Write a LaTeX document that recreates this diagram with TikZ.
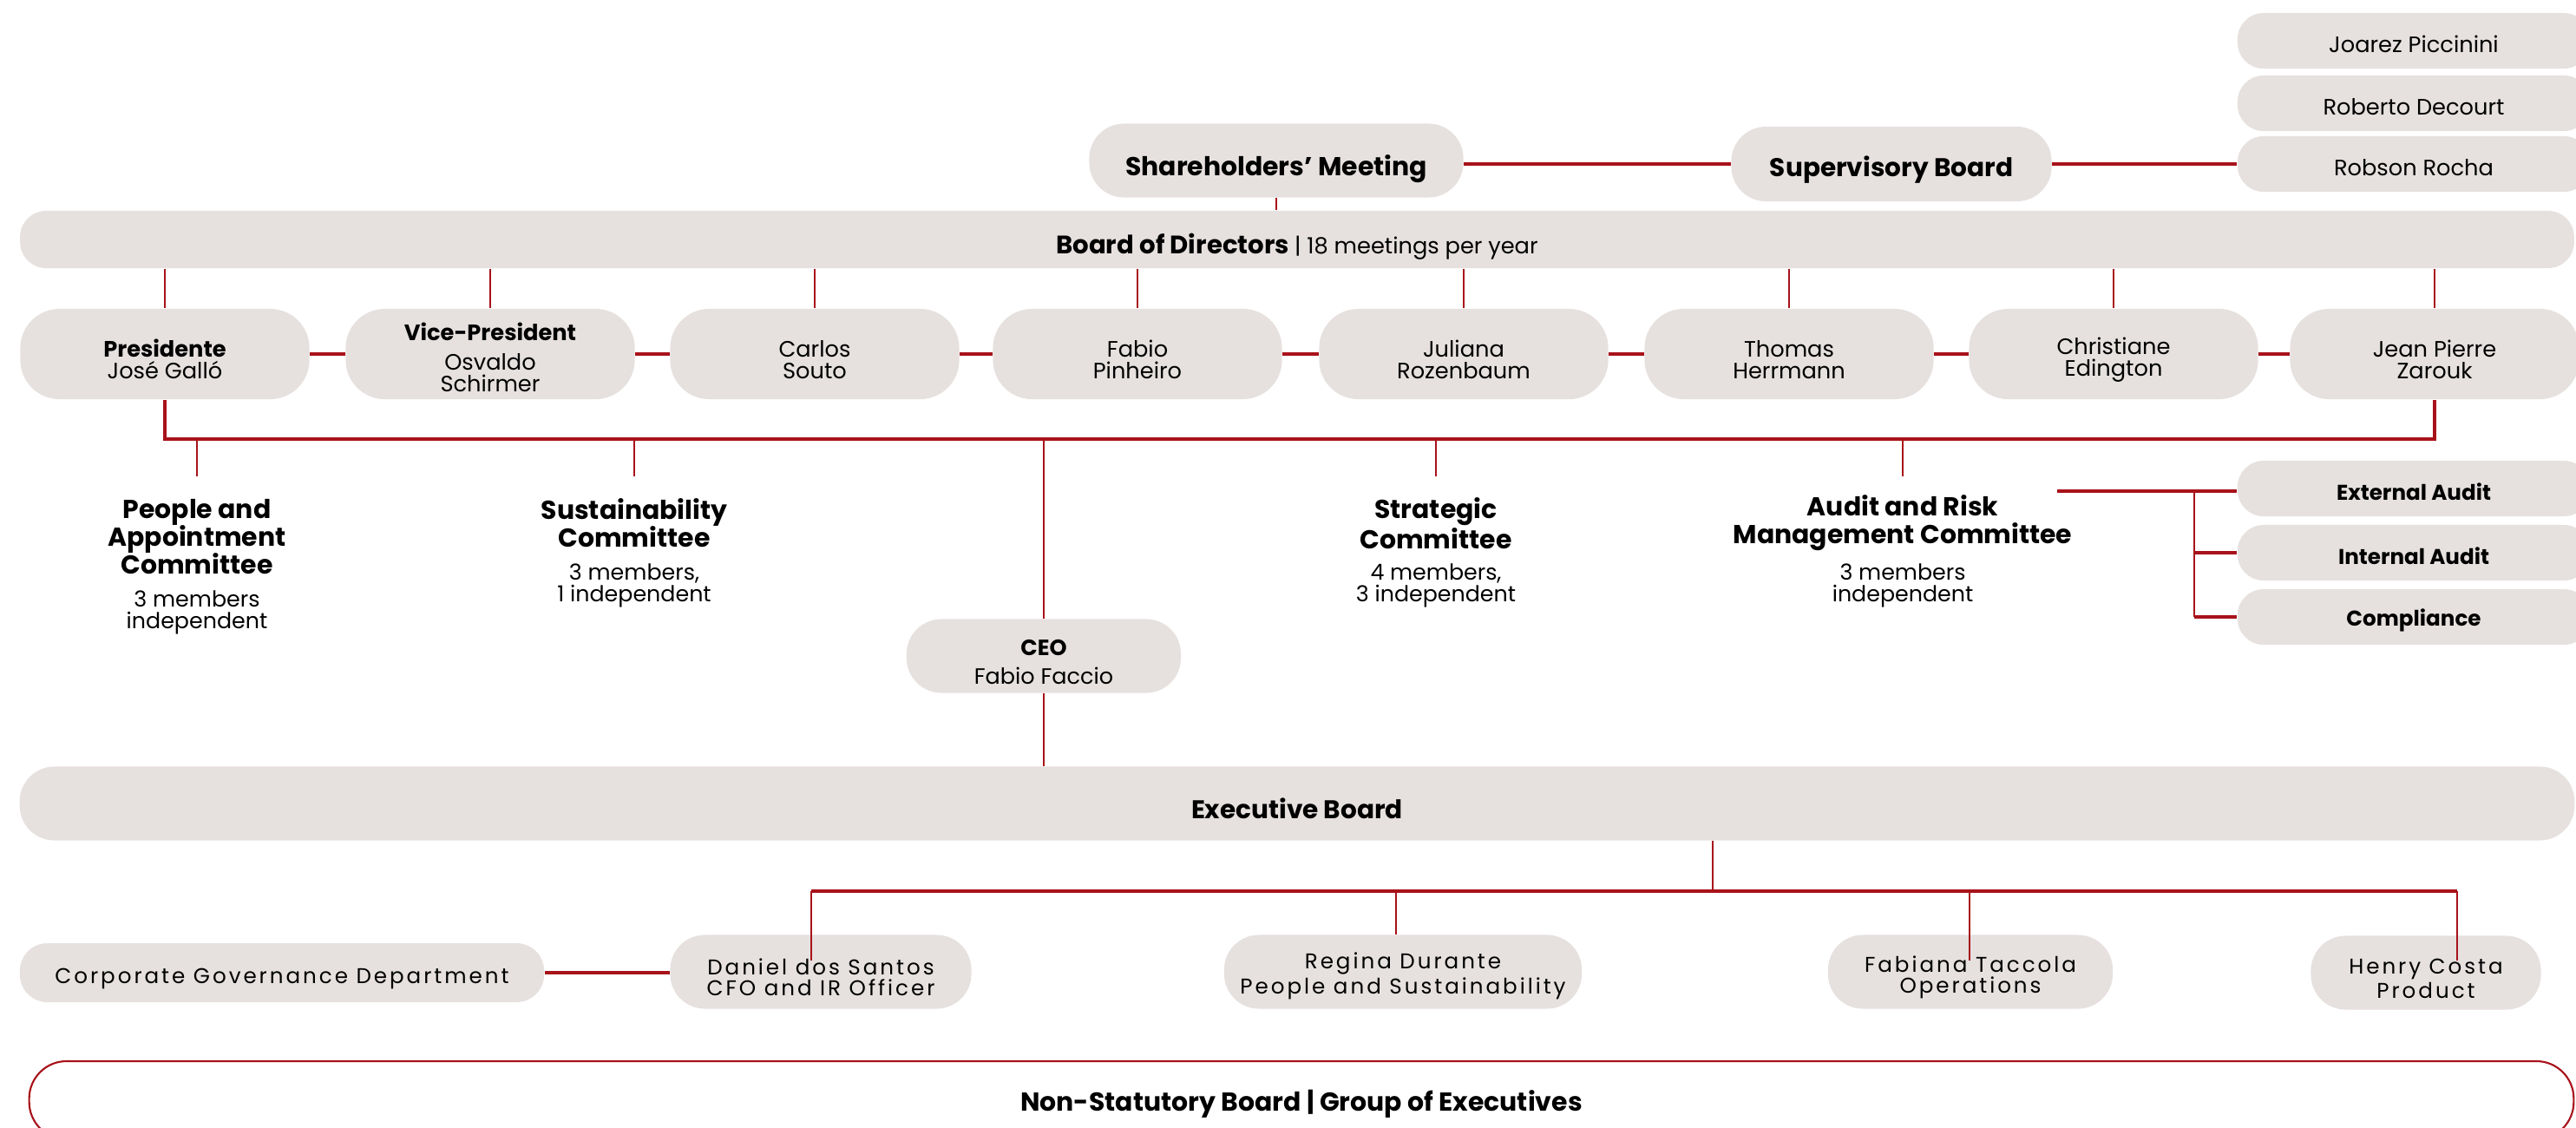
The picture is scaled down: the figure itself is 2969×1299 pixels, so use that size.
\documentclass[tikz,border=0pt]{standalone}
\usepackage{fontspec}
\setmainfont{Poppins}
\usetikzlibrary{calc}
\definecolor{boxfill}{RGB}{230,225,223}
\definecolor{linered}{RGB}{168,18,26}
\newcommand\myfs[2]{\fontsize{#1}{#2}\selectfont}
\newcommand\lo[1]{\rule{0pt}{\dimexpr0.8em+#1\relax}}
\tikzset{
  box/.style={fill=boxfill, draw=none, align=center, inner sep=0pt, text=black},
  lowtext/.style={execute at begin node={\rule{0pt}{\dimexpr0.8em+#1\relax}}},
  pill/.style={box, lowtext=0.07cm, minimum width=4.06cm, minimum height=0.64cm, rounded corners=0.3cm, font=\myfs{7.3}{8.4}},
  dirbox/.style={box, minimum width=3.33cm, minimum height=1.04cm, rounded corners=0.45cm, font=\myfs{7.3}{7.1}},
  execbox/.style={box, minimum height=0.85cm, rounded corners=0.4cm, font=\myfs{7}{6.9}\addfontfeatures{LetterSpace=12}},
  comtitle/.style={align=center, inner sep=0pt, font=\myfs{8.5}{9.1}\bfseries},
  comsub/.style={align=center, inner sep=0pt, font=\myfs{7.2}{7}},
  conn/.style={draw=linered, line width=0.55pt},
  hconn/.style={draw=linered, line width=0.9pt},
}
\begin{document}
\begin{tikzpicture}[x=0.01cm, y=-0.01cm]
\useasboundingbox (0,0) rectangle (2969,1299);
\clip (0,0) rectangle (2969,1299);

% supervisory members
\node[pill] (jp) at (2782,47) {Joarez Piccinini};
\node[pill] (rd) at (2782,119) {Roberto Decourt};
\node[pill] (rr) at (2782,189) {Robson Rocha};

\node[box, lowtext=0.2cm, minimum width=4.31cm, minimum height=0.85cm, rounded corners=0.4cm, font=\myfs{8.5}{10}\bfseries] (sm) at (1471,185) {Shareholders’ Meeting};
\node[box, lowtext=0.14cm, minimum width=3.69cm, minimum height=0.86cm, rounded corners=0.4cm, font=\myfs{8.4}{10}\bfseries] (sb) at (2180,189) {Supervisory Board};

\node[box, lowtext=0.12cm, minimum width=29.42cm, minimum height=0.66cm, rounded corners=0.3cm] (bod) at (1495,276) {\myfs{8.3}{9}\bfseries Board of Directors \mdseries\myfs{7.3}{8}| 18 meetings per year};

% directors
\node[dirbox] (d1) at (190,408) {\lo{0.12cm}\bfseries Presidente\\José Galló};
\node[dirbox] (d2) at (565,408) {\lo{0.08cm}\bfseries Vice-President\\[2.4pt]Osvaldo\\Schirmer};
\node[dirbox] (d3) at (939,408) {\lo{0.12cm}Carlos\\Souto};
\node[dirbox] (d4) at (1311,408) {\lo{0.12cm}Fabio\\Pinheiro};
\node[dirbox] (d5) at (1687,408) {\lo{0.12cm}Juliana\\Rozenbaum};
\node[dirbox] (d6) at (2062,408) {\lo{0.12cm}Thomas\\Herrmann};
\node[dirbox] (d7) at (2436,408) {\lo{0.12cm}Christiane\\Edington};
\node[dirbox] (d8) at (2806,408) {\lo{0.12cm}Jean Pierre\\Zarouk};

% committees
\node[comtitle] (c1t) at (227,619) {People and\\Appointment\\Committee};
\node[comsub] (c1s) at (227,706) {3 members\\independent};
\node[comtitle] (c2t) at (731,603) {Sustainability\\Committee};
\node[comsub] (c2s) at (731,675) {3 members,\\1 independent};
\node[comtitle] (c3t) at (1655,603) {Strategic\\Committee};
\node[comsub] (c3s) at (1655,675) {4 members,\\3 independent};
\node[comtitle] (c4t) at (2193,603) {Audit and Risk\\Management Committee};
\node[comsub] (c4s) at (2193,675) {3 members\\independent};

% audit functions
\node[pill, font=\myfs{7}{8.4}\bfseries] (ext) at (2782,563) {External Audit};
\node[pill, font=\myfs{7}{8.4}\bfseries] (int) at (2782,637) {Internal Audit};
\node[pill, lowtext=0.03cm, font=\myfs{7}{8.4}\bfseries] (comp) at (2782,711) {Compliance};

% CEO
\node[box, minimum width=3.16cm, minimum height=0.85cm, rounded corners=0.4cm, font=\myfs{7.25}{9.5}] (ceo) at (1203,756) {\lo{0.12cm}{\bfseries CEO}\\Fabio Faccio};

% executive board
\node[box, lowtext=0.11cm, minimum width=29.43cm, minimum height=0.85cm, rounded corners=0.4cm, font=\myfs{8.4}{9}\bfseries] (exec) at (1495,926) {Executive Board};

\node[execbox, lowtext=0.11cm, minimum width=6.04cm, minimum height=0.68cm, rounded corners=0.32cm] (cgd) at (325,1121) {Corporate Governance Department};
\node[execbox, minimum width=3.47cm] (dan) at (946,1120) {\lo{0.12cm}Daniel dos Santos\\CFO and IR Officer};
\node[execbox, minimum width=4.12cm] (reg) at (1617,1120) {\lo{0.08cm}Regina Durante\\People and Sustainability};
\node[execbox, minimum width=3.28cm] (fab) at (2271,1120) {\lo{0.12cm}Fabiana Taccola\\Operations};
\node[execbox, minimum width=2.65cm] (hen) at (2796,1121) {\lo{0.12cm}Henry Costa\\Product};

% non-statutory board
\node[draw=linered, line width=0.6pt, lowtext=0.08cm, minimum width=29.31cm, minimum height=0.9cm, rounded corners=0.43cm, inner sep=0pt, font=\myfs{8.5}{9}\bfseries] (nsb) at (1500,1268) {Non-Statutory Board | Group of Executives};

% ---------- connectors ----------
\draw[hconn] (sm.east |- sb.west) -- (sb.west);
\draw[hconn] (sb.east) -- (rr.west);
\draw[conn] (sm.south) -- (sm.south |- bod.north);

\foreach \d in {d1,d2,d3,d4,d5,d6,d7,d8}{
  \draw[conn] (\d.north |- bod.south) -- (\d.north);
}
\draw[hconn] (d1.east) -- (d2.west);
\draw[hconn] (d2.east) -- (d3.west);
\draw[hconn] (d3.east) -- (d4.west);
\draw[hconn] (d4.east) -- (d5.west);
\draw[hconn] (d5.east) -- (d6.west);
\draw[hconn] (d6.east) -- (d7.west);
\draw[hconn] (d7.east) -- (d8.west);

% committee bus
\coordinate (busL) at (190,506);
\draw[hconn] (d1.south) -- (busL) -| (d8.south);
\coordinate (k1) at (227,549);
\coordinate (k2) at (731,549);
\coordinate (k3) at (1655,549);
\coordinate (k4) at (2193,549);
\foreach \k in {k1,k2,k3,k4}{
  \draw[conn] (\k |- busL) -- (\k);
}
\draw[conn] (ceo.north |- busL) -- (ceo.north);
\draw[conn] (ceo.south) -- (ceo.south |- exec.north);

% audit functions
\coordinate (arm) at (2371,566);
\coordinate (av) at (2529,566);
\draw[hconn] (arm) -- (arm -| ext.west);
\draw[conn] (av) -- (av |- comp.west);
\draw[hconn] (av |- int.west) -- (int.west);
\draw[hconn] (av |- comp.west) -- (comp.west);

% executive tree
\coordinate (eb) at (1974,1027);
\coordinate (ebL) at (935,1027);
\coordinate (ebR) at (2832,1027);
\coordinate (danT) at (935,1107);
\coordinate (fabT) at (2270,1107);
\coordinate (henT) at (2832,1107);
\draw[conn] (eb |- exec.south) -- (eb);
\draw[hconn] (ebL) -- (ebR);
\draw[conn] (ebL) -- (danT);
\draw[conn] (ebR) -- (henT);
\draw[conn] (fabT |- ebL) -- (fabT);
\draw[conn] (1609,1027) coordinate (regB) -- (regB |- reg.north);
\draw[hconn] (cgd.east) -- (cgd.east -| dan.west);
\end{tikzpicture}
\end{document}
